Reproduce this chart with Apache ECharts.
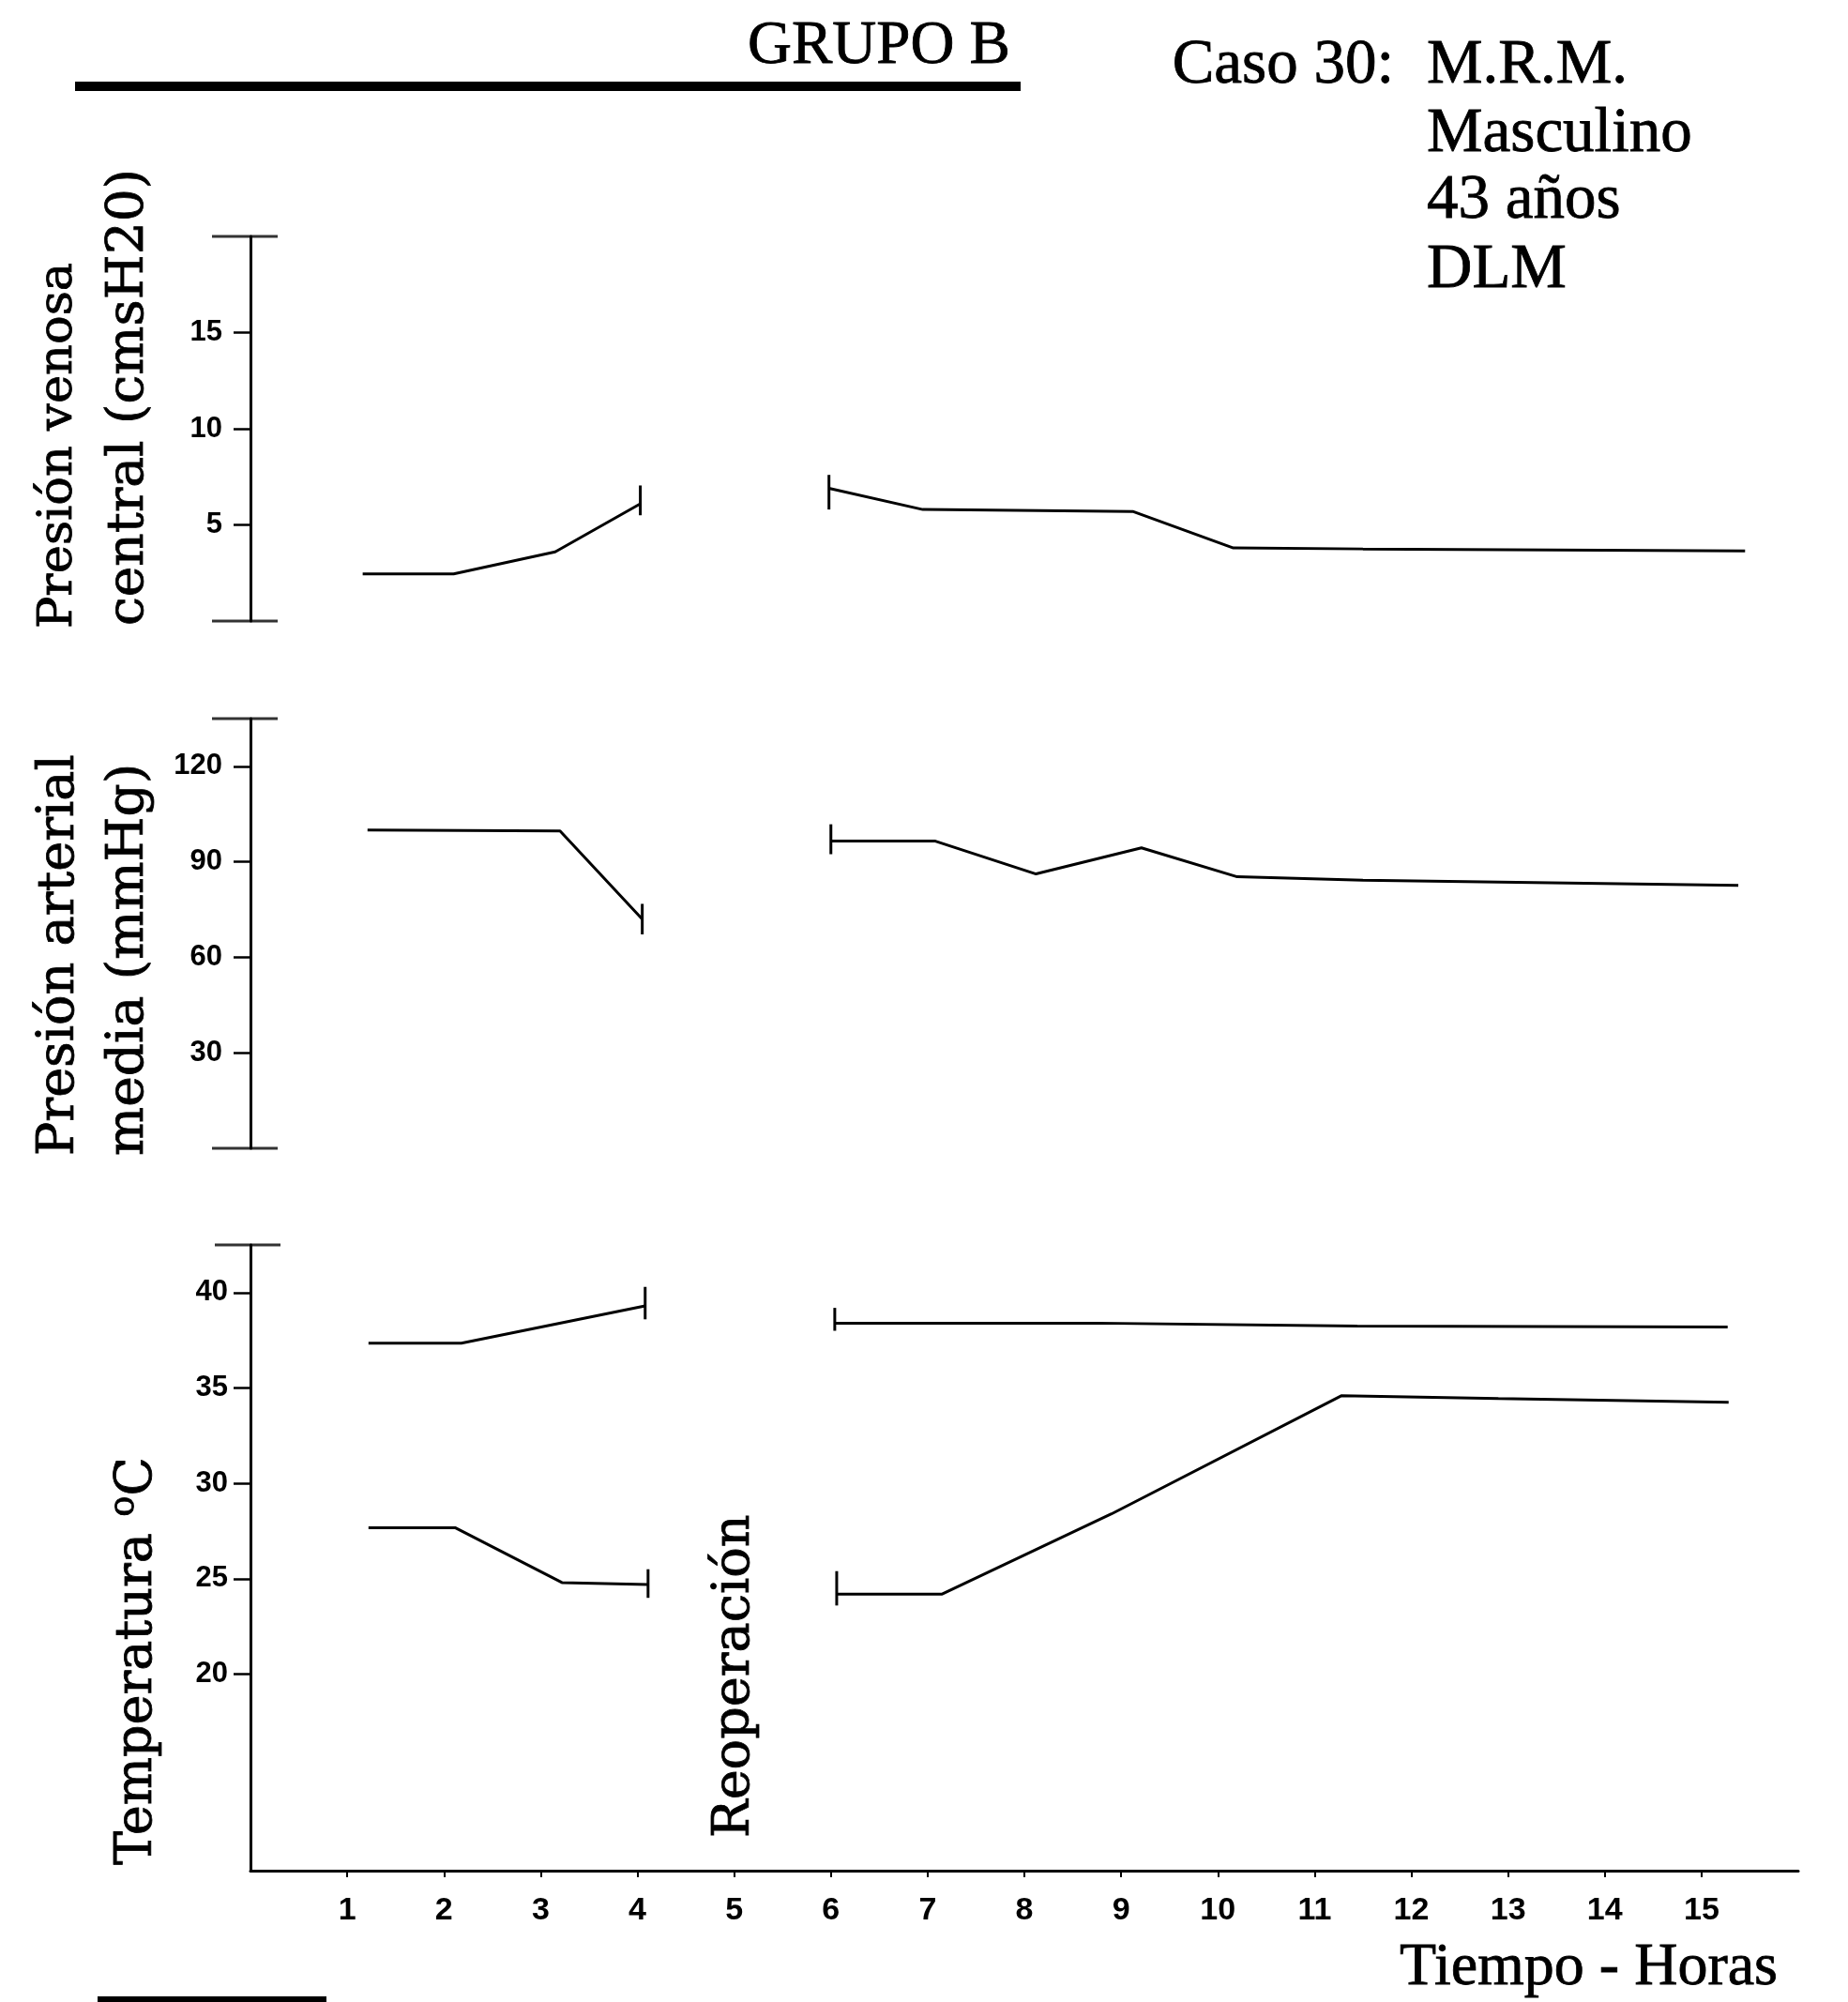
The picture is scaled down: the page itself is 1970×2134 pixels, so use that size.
<!DOCTYPE html>
<html>
<head>
<meta charset="utf-8">
<title>Grupo B - Caso 30</title>
<script src="https://cdn.jsdelivr.net/npm/echarts@6/dist/echarts.min.js"></script>
<style>
  html, body { margin: 0; padding: 0; background: #fff; }
  #chart { width: 1970px; height: 2134px; }
</style>
</head>
<body>
<div id="chart"></div>
<script>
// horas (eje x) y marcas de los ejes
var horas = [1, 2, 3, 4, 5, 6, 7, 8, 9, 10, 11, 12, 13, 14, 15];
var pvcTicks = [5, 10, 15];
var pamTicks = [30, 60, 90, 120];
var tempTicks = [20, 25, 30, 35, 40];

// rangos de los ejes y
var pvcRango = [0, 20];
var pamRango = [0, 135];
var tempRango = [9.7, 42.5];

// presion venosa central (cmsH2O): antes y despues de la reoperacion
var pvcAntes = [[1.16, 2.45], [2.1, 2.45], [3.15, 3.6], [4.03, 6.1]];
var pvcDespues = [[5.98, 6.9], [6.95, 5.8], [9.12, 5.7], [10.16, 3.8], [11.5, 3.75], [15.45, 3.65]];
var pvcBarras = [[4.03, 5.5, 7.05], [5.98, 5.8, 7.6]];

// presion arterial media (mmHg)
var pamAntes = [[1.21, 100], [3.2, 99.7], [4.05, 72]];
var pamDespues = [[6.0, 96.5], [7.08, 96.5], [8.12, 86.2], [9.21, 94.4], [10.2, 85.3], [11.5, 84.2], [15.38, 82.6]];
var pamBarras = [[4.05, 67.2, 76.8], [6.0, 92.4, 101.8]];

// temperatura (C): curva alta y curva baja
var tempAltaAntes = [[1.22, 37.35], [2.18, 37.35], [4.08, 39.3]];
var tempAltaDespues = [[6.04, 38.4], [8.75, 38.4], [11.44, 38.25], [15.27, 38.2]];
var tempBajaAntes = [[1.22, 27.67], [2.12, 27.67], [3.22, 24.8], [4.11, 24.7]];
var tempBajaDespues = [[6.06, 24.2], [7.15, 24.2], [8.9, 28.4], [11.28, 34.6], [12.9, 34.45], [15.28, 34.25]];
var tempBarras = [[4.08, 38.6, 40.3], [4.11, 24.0, 25.5], [6.04, 38.0, 39.2], [6.06, 23.6, 25.4]];

var myChart = echarts.init(document.getElementById('chart'));

var serif = '"Liberation Serif", "Times New Roman", serif';
var serifAncha = '"DejaVu Serif", serif';
var sans = '"Liberation Sans", Arial, sans-serif';
var sansNarrow = '"Liberation Sans Narrow", "Liberation Sans", Arial, sans-serif';

function ejeX(i, visible) {
	if (!visible) {
		return { type: 'value', gridIndex: i, min: 0, max: 16, show: false };
	}
	return {
		type: 'value',
		gridIndex: i,
		min: 0,
		max: 16,
		axisLine: { show: true, lineStyle: { color: '#000', width: 3 } },
		axisTick: { show: true, customValues: horas, length: 7, lineStyle: { color: '#000', width: 2 } },
		axisLabel: {
			show: true,
			customValues: horas,
			margin: 26,
			color: '#000',
			fontFamily: sansNarrow,
			fontWeight: 'bold',
			fontSize: 34
		},
		splitLine: { show: false }
	};
}

function ejeY(i, rango, ticks, offset) {
	return {
		type: 'value',
		gridIndex: i,
		min: rango[0],
		max: rango[1],
		offset: offset,
		axisLine: { show: true, lineStyle: { color: '#000', width: 3 } },
		axisTick: { show: true, customValues: ticks, length: 18, lineStyle: { color: '#000', width: 2.5 } },
		axisLabel: {
			show: true,
			customValues: ticks,
			margin: 24,
			color: '#000',
			fontFamily: sans,
			fontWeight: 'bold',
			fontSize: 31
		},
		splitLine: { show: false }
	};
}

function linea(datos, i) {
	return {
		type: 'line',
		xAxisIndex: i,
		yAxisIndex: i,
		data: datos,
		symbol: 'none',
		clip: false,
		lineStyle: { color: '#000', width: 3 }
	};
}

function barras(datos, i) {
	return {
		type: 'custom',
		xAxisIndex: i,
		yAxisIndex: i,
		data: datos,
		encode: { x: 0, y: [1, 2] },
		renderItem: function(params, api) {
			var arriba = api.coord([api.value(0), api.value(2)]);
			var abajo = api.coord([api.value(0), api.value(1)]);
			return {
				type: 'line',
				shape: { x1: arriba[0], y1: arriba[1], x2: abajo[0], y2: abajo[1] },
				style: { stroke: '#000', lineWidth: 3 }
			};
		}
	};
}

// topes horizontales de los ejes y
function topes(datos, i, dx) {
	return {
		type: 'scatter',
		xAxisIndex: i,
		yAxisIndex: i,
		data: datos,
		clip: false,
		symbol: 'rect',
		symbolSize: [70, 3],
		symbolOffset: [dx, 0],
		itemStyle: { color: '#000' }
	};
}

function texto(x, y, t, size, family, align, rot) {
	return {
		type: 'text',
		x: x,
		y: y,
		rotation: rot || 0,
		style: {
			text: t,
			fontSize: size,
			fontFamily: family,
			fill: '#000',
			stroke: '#000',
			lineWidth: 0.8,
			align: align,
			textAlign: align,
			verticalAlign: 'middle',
			textVerticalAlign: 'middle'
		}
	};
}

var vertical = Math.PI / 2;

option = {
	backgroundColor: '#fff',
	animation: false,
	grid: [
		{ left: 267, width: 1650, top: 252, height: 410 },
		{ left: 267, width: 1650, top: 766, height: 458 },
		{ left: 267, width: 1650, top: 1327, height: 667 }
	],
	xAxis: [ejeX(0, false), ejeX(1, false), ejeX(2, true)],
	yAxis: [
		ejeY(0, pvcRango, pvcTicks, 6),
		ejeY(1, pamRango, pamTicks, 6),
		ejeY(2, tempRango, tempTicks, 0)
	],
	series: [
		linea(pvcAntes, 0),
		linea(pvcDespues, 0),
		barras(pvcBarras, 0),
		topes([[0, pvcRango[0]], [0, pvcRango[1]]], 0, -6),
		linea(pamAntes, 1),
		linea(pamDespues, 1),
		barras(pamBarras, 1),
		topes([[0, pamRango[0]], [0, pamRango[1]]], 1, -6),
		linea(tempAltaAntes, 2),
		linea(tempAltaDespues, 2),
		linea(tempBajaAntes, 2),
		linea(tempBajaDespues, 2),
		barras(tempBarras, 2),
		topes([[0, tempRango[1]]], 2, -3)
	],
	graphic: [
		{ type: 'rect', shape: { x: 80, y: 87, width: 1008, height: 10 }, style: { fill: '#000' } },
		{ type: 'rect', shape: { x: 104, y: 2128, width: 244, height: 6 }, style: { fill: '#000' } },
		texto(937, 50, 'GRUPO B', 65, serif, 'center'),
		texto(1486, 70, 'Caso 30:', 67, serif, 'right'),
		texto(1521, 70, 'M.R.M.', 67, serif, 'left'),
		texto(1521, 143, 'Masculino', 67, serif, 'left'),
		texto(1521, 214, '43 años', 67, serif, 'left'),
		texto(1521, 288, 'DLM', 67, serif, 'left'),
		texto(1895, 2098, 'Tiempo - Horas', 64, serif, 'right'),
		texto(63, 670, 'Presión venosa', 51, serifAncha, 'left', vertical),
		texto(138, 667, 'central (cmsH20)', 55, serifAncha, 'left', vertical),
		texto(64, 1232, 'Presión arterial', 54, serifAncha, 'left', vertical),
		texto(138, 1232, 'media (mmHg)', 55, serifAncha, 'left', vertical),
		texto(784, 1959, 'Reoperación', 54, serifAncha, 'left', vertical),
		{
			type: 'text',
			x: 144,
			y: 1988,
			rotation: vertical,
			style: {
				text: '{t|Temperatura }{sup|o}{t|C}',
				fill: '#000',
				stroke: '#000',
				lineWidth: 0.8,
				align: 'left',
				textAlign: 'left',
				verticalAlign: 'middle',
				textVerticalAlign: 'middle',
				rich: {
					t: { fontSize: 54, fontFamily: serifAncha, lineHeight: 60, verticalAlign: 'bottom' },
					sup: { fontSize: 37, fontFamily: serifAncha, lineHeight: 60, verticalAlign: 'top' }
				}
			}
		}
	]
};

myChart.setOption(option);
window.onresize = myChart.resize;
</script>
</body>
</html>
